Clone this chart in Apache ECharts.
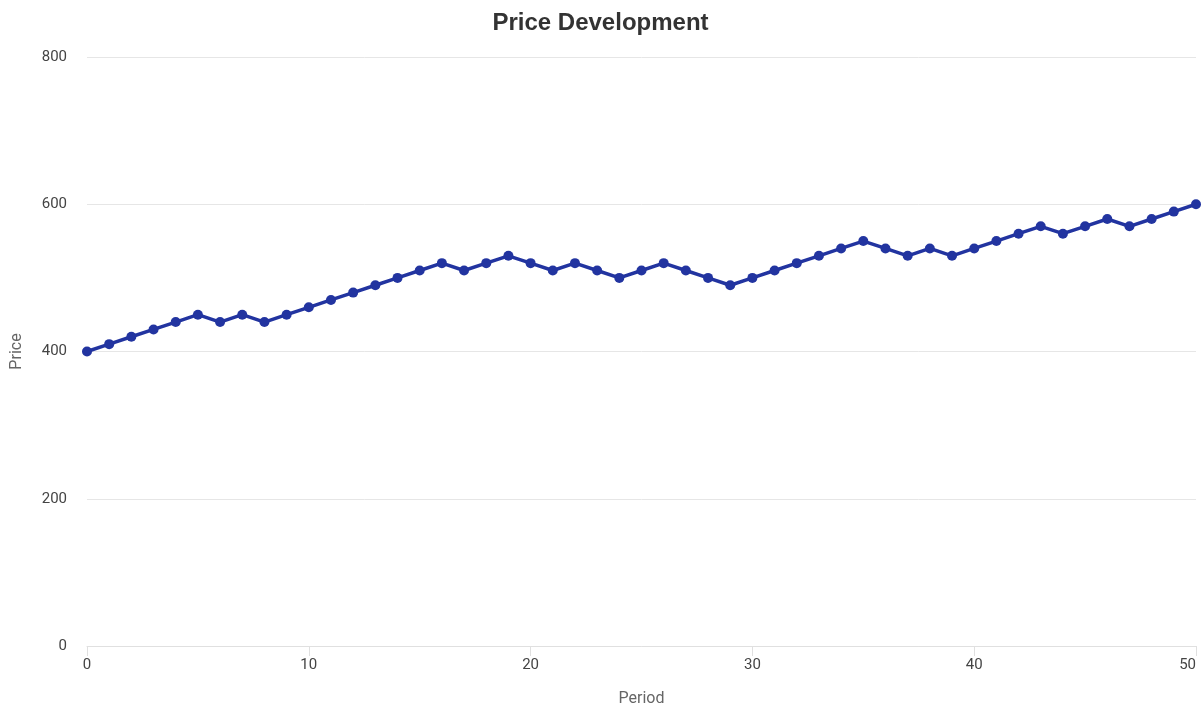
<!DOCTYPE html>
<html>
<head>
<meta charset="utf-8">
<script src="https://cdn.jsdelivr.net/npm/echarts@6/dist/echarts.min.js"></script>
<style>
  html, body { margin: 0; padding: 0; background: #fff; }
  #chart { width: 1201px; height: 709px; }
</style>
</head>
<body>
<div id="chart"></div>
<script>
// Period index and price per period
const periods = [];
for (let i = 0; i <= 50; i++) periods.push(i);
const prices = [
  400, 410, 420, 430, 440, 450, 440, 450, 440, 450,
  460, 470, 480, 490, 500, 510, 520, 510, 520, 530,
  520, 510, 520, 510, 500, 510, 520, 510, 500, 490,
  500, 510, 520, 530, 540, 550, 540, 530, 540, 530,
  540, 550, 560, 570, 560, 570, 580, 570, 580, 590,
  600
];
const titleText = 'Price Development';
const xAxisName = 'Period';
const yAxisName = 'Price';

const points = periods.map((p, i) => [p, prices[i]]);

const chart = echarts.init(document.getElementById('chart'));
chart.setOption({
  animation: false,
  textStyle: { fontFamily: 'Roboto, sans-serif' },
  title: {
    text: titleText,
    left: 'center',
    top: 6,
    textStyle: { fontSize: 24, fontWeight: 'bold', color: '#333', fontFamily: '"Liberation Sans", Arial, sans-serif' }
  },
  grid: { left: 87, right: 5, top: 57, bottom: 63, outerBoundsMode: 'none', containLabel: false },
  xAxis: {
    type: 'value',
    min: 0,
    max: 50,
    interval: 10,
    name: xAxisName,
    nameLocation: 'middle',
    nameGap: 45,
    nameTextStyle: { fontSize: 16, color: '#666' },
    axisLine: { show: true, lineStyle: { color: '#e0e0e0' } },
    axisTick: { show: true, length: 10, lineStyle: { color: '#e0e0e0' } },
    axisLabel: { fontSize: 15, color: '#444', margin: 12, alignMaxLabel: 'right' },
    splitLine: { show: false }
  },
  yAxis: {
    type: 'value',
    min: 0,
    max: 800,
    interval: 200,
    name: yAxisName,
    nameLocation: 'middle',
    nameGap: 62,
    nameTextStyle: { fontSize: 16, color: '#666' },
    axisLine: { show: false },
    axisTick: { show: false },
    axisLabel: { fontSize: 15, color: '#444', margin: 20 },
    splitLine: { lineStyle: { color: '#e6e6e6' } }
  },
  series: [{
    type: 'line',
    data: points,
    symbol: 'circle',
    symbolSize: 10,
    lineStyle: { width: 3.5, color: '#2234a0' },
    itemStyle: { color: '#2234a0' }
  }]
});
</script>
</body>
</html>
